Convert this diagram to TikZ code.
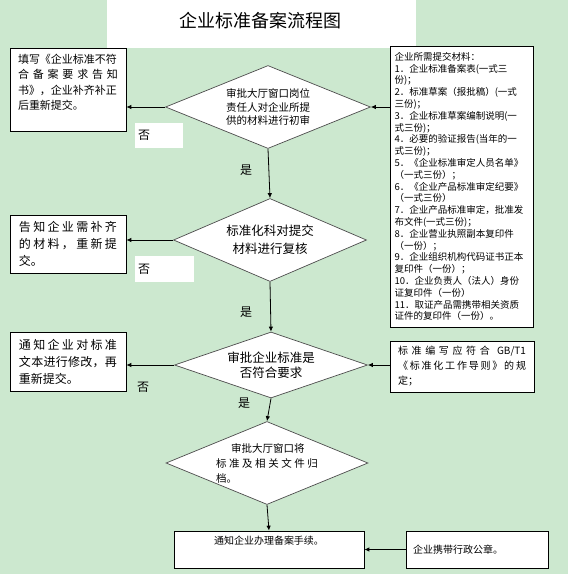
\documentclass[tikz,border=0pt]{standalone}
\usepackage{fontspec}
\setmainfont{Noto Sans CJK SC}
\usetikzlibrary{arrows.meta,shapes.geometric}

\definecolor{bggreen}{RGB}{204,232,207}
\newcommand{\spreadline}[1]{\makebox[\hsize][s]{\spaceskip=0pt plus 1fil #1}}

\begin{document}
\begin{tikzpicture}[
    x=1pt, y=-1pt,
    >={Latex[length=5pt,width=4.5pt]}, % Set default arrow tip style
    box/.style={draw, line width=0.7pt, fill=white, inner sep=0pt, align=left}, % Text boxes
    check/.style={diamond, aspect=2.4, draw=black!70, line width=0.7pt, fill=white, inner sep=0pt, align=center}, % Decisions
    flow/.style={->, line width=0.8pt}, % Connectors
    answer/.style={font=\fontsize{12pt}{14pt}\selectfont, inner sep=0pt} % Yes/no labels
]

% Page background
\fill[bggreen] (0,0) rectangle (568,574);
\fill[white] (107,0) rectangle (416,48);

% Title
\node[font=\fontsize{18pt}{20pt}\selectfont] (title) at (260,21) {企业标准备案流程图};

% Decision steps
\node[check, minimum width=205pt, minimum height=83pt, font=\fontsize{10.5pt}{13.5pt}\selectfont] (d1) at (268,107)
    {审批大厅窗口岗位\\责任人对企业所提\\供的材料进行初审};
\node[check, minimum width=193pt, minimum height=83pt, font=\fontsize{12.5pt}{18pt}\selectfont] (d2) at (270,240)
    {标准化科对提交\\材料进行复核};
\node[check, minimum width=193pt, minimum height=66pt, font=\fontsize{12.5pt}{15.5pt}\selectfont] (d3) at (271,365)
    {审批企业标准是\\否符合要求};
\node[check, minimum width=202pt, minimum height=83pt, text width=102pt, align=left, font=\fontsize{10.5pt}{15pt}\selectfont] (d4) at (267,463)
    {\hspace*{15pt}审批大厅窗口将\\\spreadline{标 准 及 相 关 文 件 归}\\档。};

% Boxes on the left
\node[box, text width=100pt, inner xsep=8pt, minimum height=83pt, font=\fontsize{11pt}{15.5pt}\selectfont] (b1) at (68,89.5)
    {填写《企业标准不符\\\spreadline{合 备 案 要 求 告 知}\\书》，企业补齐补正\\后重新提交。\\ \mbox{}};
\node[box, text width=98pt, inner xsep=9pt, minimum height=58pt, font=\fontsize{12pt}{17pt}\selectfont] (b2) at (68,244)
    {\spreadline{告 知 企 业 需 补 齐}\\\spreadline{的 材 料 ， 重 新 提}\\交。};
\node[box, text width=98pt, inner xsep=9pt, minimum height=59pt, font=\fontsize{12pt}{17pt}\selectfont] (b3) at (68,361.5)
    {\spreadline{通 知 企 业 对 标 准}\\\spreadline{文 本 进 行 修 改 ， 再}\\重新提交。};

% Boxes on the right
\node[box, text width=134pt, inner xsep=4.5pt, minimum height=281pt, font=\fontsize{9.5pt}{11.8pt}\selectfont] (mats) at (461.5,186.5)
    {企业所需提交材料：\\
     1．企业标准备案表(一式三\\份)；\\
     2．标准草案（报批稿）(一式\\三份)；\\
     3．企业标准草案编制说明(一\\式三份)；\\
     4．必要的验证报告(当年的一\\式三份)；\\
     5．《企业标准审定人员名单》\\（一式三份）；\\
     6．《企业产品标准审定纪要》\\（一式三份）\\
     7．企业产品标准审定，批准发\\布文件(一式三份)；\\
     8．企业营业执照副本复印件\\（一份）；\\
     9．企业组织机构代码证书正本\\复印件（一份）；\\
     10．企业负责人（法人）身份\\证复印件（一份）\\
     11．取证产品需携带相关资质\\证件的复印件（一份）。};
\node[box, text width=128pt, inner xsep=8pt, minimum height=51pt, font=\fontsize{10pt}{15pt}\selectfont] (rule) at (462,366.5)
    {\spreadline{标 准 编 写 应 符 合 \ GB/T1}\\\spreadline{《 标 准 化 工 作 导 则 》 的 规}\\定；};

% Final boxes
\node[box, text width=176pt, inner xsep=7pt, minimum height=37pt, align=center, font=\fontsize{10pt}{18pt}\selectfont] (done) at (269,549.5)
    {通知企业办理备案手续。\\ \mbox{}};
\node[box, text width=128pt, inner xsep=7pt, minimum height=37pt, font=\fontsize{10pt}{14pt}\selectfont] (seal) at (477,549.5)
    {企业携带行政公章。};

% Yes/no labels
\node[answer, fill=white, text width=42pt, inner xsep=3pt, minimum height=25pt, align=left] (no1) at (159,135.5) {否};
\node[answer, fill=white, text width=53pt, inner xsep=3pt, minimum height=26pt, align=left] (no2) at (164.5,269) {否};
\node[answer] (no3) at (143,387) {否};
\node[answer] (yes1) at (246,170) {是};
\node[answer] (yes2) at (246,312) {是};
\node[answer] (yes3) at (244,403) {是};

% Connectors
\draw[flow] (d1.west) -- (b1.east |- d1.west);
\draw[flow] (mats.west |- d1.east) -- (d1.east);
\draw[flow] (d1.south) -- (d2.north);
\draw[flow] (d2.west) -- (b2.east |- d2.west);
\draw[flow] (d2.south) -- (d3.north);
\draw[flow] (d3.west) -- (b3.east |- d3.west);
\draw[flow] (rule.west |- d3.east) -- (d3.east);
\draw[flow] (d3.south) -- (d4.north);
\draw[flow] (d4.south) -- (done.north);
\draw[flow] (seal.west) -- (done.east |- seal.west);

\end{tikzpicture}
\end{document}
